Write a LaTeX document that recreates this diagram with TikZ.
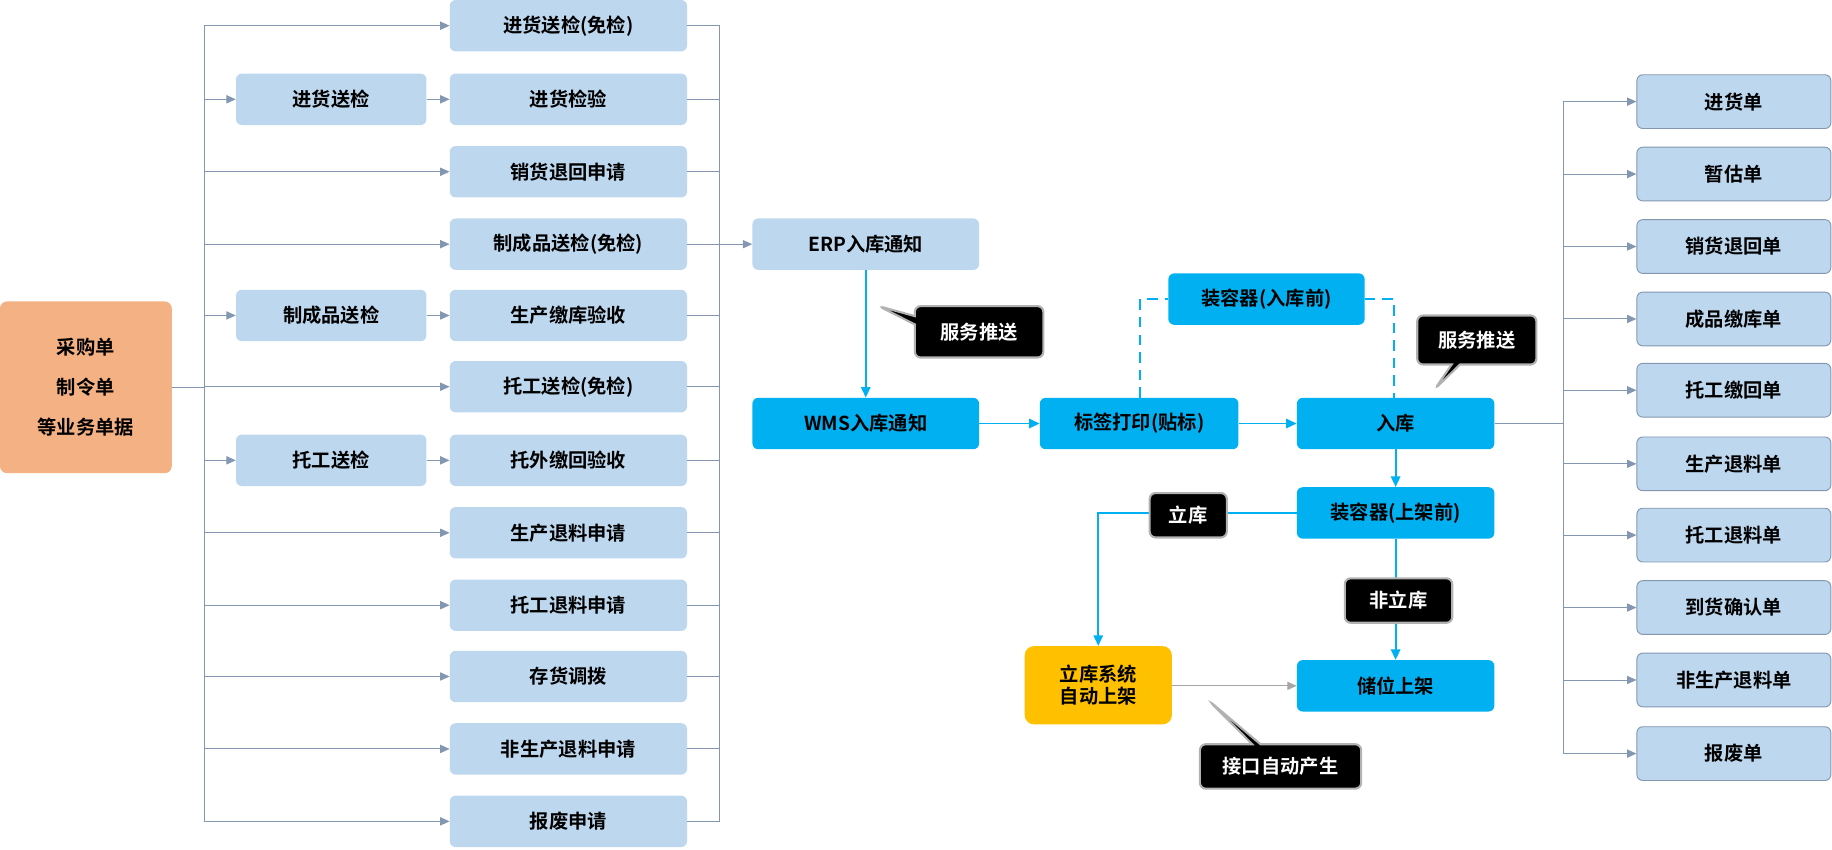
\documentclass[tikz,border=0pt]{standalone}
\usepackage{fontspec}
\setmainfont{Noto Sans CJK SC}[BoldFont={Noto Sans CJK SC Bold}]
\usetikzlibrary{arrows.meta,shapes.callouts}
\definecolor{lb}{HTML}{BDD7EE}
\definecolor{cy}{HTML}{00B0F0}
\definecolor{yl}{HTML}{FFC000}
\definecolor{og}{HTML}{F4B183}
\definecolor{gl}{HTML}{8497B0}
\begin{document}
\begin{tikzpicture}[x=1pt,y=-1pt,
  every node/.style={font=\fontsize{16.5}{19}\selectfont\bfseries},
  lbox/.style={fill=lb,rounded corners=5pt,minimum height=44pt,inner sep=0pt,anchor=center},
  item/.style={lbox,minimum width=203pt},
  mid/.style={lbox,minimum width=163pt},
  outb/.style={lbox,minimum width=166pt,minimum height=46pt,draw=gl,line width=0.8pt},
  cbox/.style={fill=cy,rounded corners=5pt,minimum height=44pt,inner sep=0pt},
  ga/.style={draw=gl,line width=0.8pt,-{Triangle[length=8pt,width=7pt]}},
  gl/.style={draw=gl,line width=0.8pt},
  ca/.style={draw=cy,line width=1.6pt,-{Triangle[length=9pt,width=8pt]}},
  cl/.style={draw=cy,line width=1.6pt},
  tag/.style={fill=black,draw=gray!60,line width=1.8pt,rounded corners=5pt,text=white,inner sep=0pt,minimum height=38pt},
  call/.style={rectangle callout,tag}]
\useasboundingbox (0,0) rectangle (1568,727);
\node[fill=og,rounded corners=6pt,minimum width=147pt,minimum height=147pt,align=center,font=\fontsize{16.5}{34}\selectfont\bfseries] (src) at (73.5,331.5) {采购单\\制令单\\等业务单据};
\foreach \n/\y/\t in {a/22/进货送检(免检),b/85/进货检验,c/147/销货退回申请,d/209/制成品送检(免检),e/270/生产缴库验收,f/331/托工送检(免检),g/394/托外缴回验收,h/456/生产退料申请,i/518/托工退料申请,j/579/存货调拨,k/641/非生产退料申请,l/703/报废申请}
  {\node[item] (\n) at (486.5,\y) {\t};}
\node[mid] (sb) at (283.5,85) {进货送检};
\node[mid] (se) at (283.5,270) {制成品送检};
\node[mid] (sg) at (283.5,394) {托工送检};
\coordinate (L) at (175,331.5);
\draw[gl] (src.east) -- (L);
\draw[gl] (175,22) -- (175,703);
\foreach \n in {a,c,d,f,h,i,j,k,l}{\draw[ga] (175,0 |- \n.west) -- (\n.west);}
\foreach \s in {sb,se,sg}{\draw[ga] (175,0 |- \s.west) -- (\s.west);}
\draw[ga] (sb) -- (b); \draw[ga] (se) -- (e); \draw[ga] (sg) -- (g);
\draw[gl] (616,22) -- (616,703);
\foreach \n in {a,b,c,d,e,f,g,h,i,j,k,l}{\draw[gl] (\n.east) -- (616,0 |- \n.east);}
\node[lbox,minimum width=194pt] (erp) at (741,209) {ERP入库通知};
\draw[ga] (616,209) -- (erp.west);
\node[cbox,minimum width=194pt] (wms) at (741,362.5) {WMS入库通知};
\node[cbox,minimum width=170pt] (lab) at (975,362.5) {标签打印(贴标)};
\node[cbox,minimum width=169pt] (ru) at (1194.5,362.5) {入库};
\node[cbox,minimum width=168pt] (zq) at (1084,256) {装容器(入库前)};
\node[cbox,minimum width=169pt] (zs) at (1194.5,439) {装容器(上架前)};
\node[cbox,minimum width=169pt] (cw) at (1194.5,587) {储位上架};
\node[fill=yl,rounded corners=8pt,minimum width=126pt,minimum height=67pt,align=center] (lk) at (940,586.5) {立库系统\\自动上架};
\draw[ca] (erp) -- (wms);
\draw[ca] (wms) -- (lab);
\draw[ca] (lab) -- (ru);
\draw[cl,dashed,dash pattern=on 9pt off 6pt] (lab.north -| 976,0) |- (zq.west);
\draw[cl,dashed,dash pattern=on 9pt off 6pt] (zq.east) -| (1193,0 |- ru.north);
\draw[ca] (ru) -- (zs);
\draw[ca] (zs.west) -| (lk.north);
\draw[ca] (zs) -- (cw);
\node[tag,minimum width=66pt] (lt) at (1017,441) {立库};
\node[tag,minimum width=92pt] (fl) at (1197,514) {非立库};
\draw[draw=gray!70,line width=0.8pt,-{Triangle[length=8pt,width=7pt]}] (lk.east |- cw.west) -- (cw.west);
\node[call,minimum width=110pt,minimum height=44pt,callout absolute pointer={(752,262)}] (c1) at (838,284) {服务推送};
\node[call,minimum width=102pt,minimum height=42pt,callout absolute pointer={(1228,333)}] (c2) at (1264,291) {服务推送};
\node[call,minimum width=138pt,callout absolute pointer={(1035,600)}] (c3) at (1096,656) {接口自动产生};
\coordinate (R) at (1338,362.5);
\draw[gl] (ru.east) -- (R);
\draw[gl] (1338,87) -- (1338,645);
\foreach \n/\y/\t in {p1/87/进货单,p2/149/暂估单,p3/211/销货退回单,p4/273/成品缴库单,p5/334/托工缴回单,p6/397/生产退料单,p7/458/托工退料单,p8/520/到货确认单,p9/582/非生产退料单,p10/645/报废单}
  {\node[outb] (\n) at (1484,\y) {\t}; \draw[ga] (1338,\y) -- (\n.west);}
\end{tikzpicture}
\end{document}
